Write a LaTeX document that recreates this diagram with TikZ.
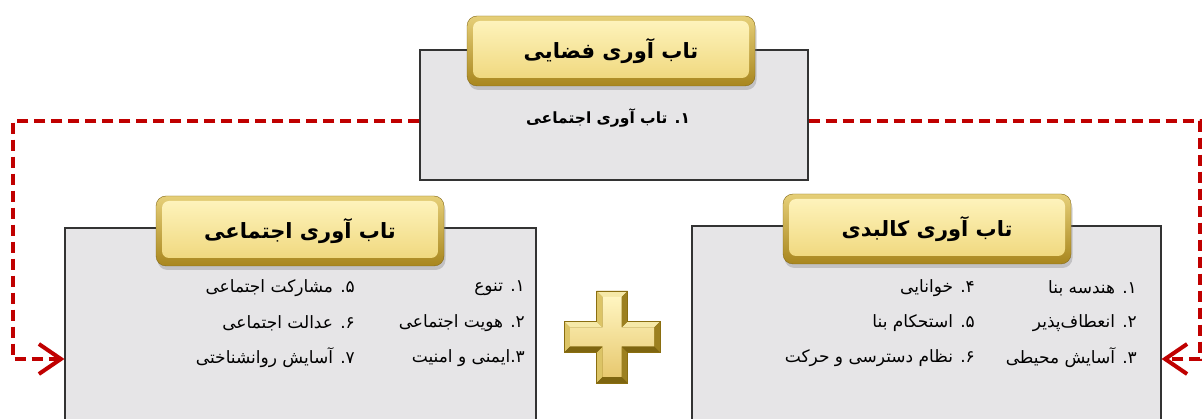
\documentclass[tikz,border=0pt]{standalone}
\usepackage{fontspec}
\newfontfamily\fa[Script=Arabic]{DejaVu Sans}
\TeXXeTstate=1
\usetikzlibrary{arrows.meta,shadows}
\definecolor{boxgray}{HTML}{E6E5E7}
\definecolor{boxline}{HTML}{333333}
\definecolor{dred}{HTML}{C00000}
\definecolor{rimtop}{HTML}{E6CF78}
\definecolor{rimbot}{HTML}{A8861E}
\definecolor{goldlight}{HTML}{FFF5C0}
\definecolor{goldmid}{HTML}{EED577}
\definecolor{chi}{HTML}{F6E9A8}
\definecolor{cleft}{HTML}{DCC466}
\definecolor{cright}{HTML}{9C8020}
\definecolor{cdown}{HTML}{7E6510}
\definecolor{cedge}{HTML}{8A6E10}
\tikzset{
  graybox/.style={draw=boxline, line width=1.1pt, fill=boxgray},
  goldtitle/.style={rounded corners=10pt, minimum width=288pt, minimum height=70pt,
    top color=rimtop, bottom color=rimbot, draw=rimbot!80!black, line width=0.4pt,
    drop shadow={shadow xshift=1.5pt, shadow yshift=-4pt, opacity=0.35},
    path picture={\shade[top color=goldlight, bottom color=goldmid, rounded corners=7pt]
      ([shift={(6pt,-5pt)}]path picture bounding box.north west) rectangle
      ([shift={(-6pt,8pt)}]path picture bounding box.south east);},
    font=\fa\bfseries\fontsize{21}{24}\selectfont},
  itemtext/.style={anchor=east, inner sep=0pt, font=\fa\fontsize{17}{19}\selectfont},
  subtitle/.style={inner sep=0pt, font=\fa\bfseries\fontsize{15.5}{18}\selectfont},
  redline/.style={draw=dred, line width=4pt, dash pattern=on 11pt off 6pt},
  redarrow/.style={-{Straight Barb[length=22pt, width=30pt, line width=4pt]}}
}
\begin{document}
\begin{tikzpicture}[x=1pt, y=-1pt]
\clip (0,0) rectangle (1203,419);
\fill[white] (0,0) rectangle (1203,419);

% gray boxes
\node[graybox, minimum width=388pt, minimum height=130pt] (top) at (614,115) {};
\node[graybox, minimum width=471pt, minimum height=212pt] (left) at (300.5,334) {};
\node[graybox, minimum width=469pt, minimum height=214pt] (right) at (926.5,333) {};

% titles
\node[goldtitle] (toptitle) at (611,51) {\beginR تاب آوری فضایی\endR};
\node[goldtitle] (lefttitle) at (300,231) {\beginR تاب آوری اجتماعی\endR};
\node[goldtitle] (righttitle) at (927,229) {\beginR تاب آوری کالبدی\endR};

% top content
\node[subtitle] (t1) at (608,118) {\beginR ۱. تاب آوری اجتماعی\endR};

% left items
\node[itemtext] (l1) at (525,288) {\beginR ۱. تنوع\endR};
\node[itemtext] (l2) at (525,323) {\beginR ۲. هویت اجتماعی\endR};
\node[itemtext] (l3) at (525,358) {\beginR ۳.ایمنی و امنیت\endR};
\node[itemtext] (l5) at (355,288) {\beginR ۵. مشارکت اجتماعی\endR};
\node[itemtext] (l6) at (355,323) {\beginR ۶. عدالت اجتماعی\endR};
\node[itemtext] (l7) at (355,358) {\beginR ۷. آسایش روانشناختی\endR};

% right items
\node[itemtext] (r1) at (1137,288) {\beginR ۱. هندسه بنا\endR};
\node[itemtext] (r2) at (1137,323) {\beginR ۲. انعطاف‌پذیر\endR};
\node[itemtext] (r3) at (1137,358) {\beginR ۳. آسایش محیطی\endR};
\node[itemtext] (r4) at (975,288) {\beginR ۴. خوانایی\endR};
\node[itemtext] (r5) at (975,323) {\beginR ۵. استحکام بنا\endR};
\node[itemtext] (r6) at (975,358) {\beginR ۶. نظام دسترسی و حرکت\endR};

% connectors
\coordinate (lcorner) at (13,121);
\coordinate (rcorner) at (1200,121);
\coordinate (arry) at (0,359);
\draw[redline, redarrow] (top.west |- lcorner) -- (lcorner) |- (left.west |- arry);
\draw[redline, redarrow] (top.east |- rcorner) -- (rcorner) |- (right.east |- arry);

% plus sign (beveled)
\fill[cedge] (596.5,291) -- (627.5,291) -- (627.5,321.5) -- (660,321.5) -- (660,352.5) -- (627.5,352.5)
  -- (627.5,383) -- (596.5,383) -- (596.5,352.5) -- (564,352.5) -- (564,321.5) -- (596.5,321.5) -- cycle;
% up-facing
\fill[chi] (596.5,291) -- (627.5,291) -- (621.5,297) -- (602.5,297) -- cycle;
\fill[chi] (564,321.5) -- (596.5,321.5) -- (602.5,327.5) -- (570,327.5) -- cycle;
\fill[chi] (627.5,321.5) -- (660,321.5) -- (654,327.5) -- (621.5,327.5) -- cycle;
% left-facing
\fill[cleft] (596.5,291) -- (602.5,297) -- (602.5,327.5) -- (596.5,321.5) -- cycle;
\fill[cleft] (564,321.5) -- (570,327.5) -- (570,346.5) -- (564,352.5) -- cycle;
\fill[cleft] (596.5,352.5) -- (602.5,346.5) -- (602.5,377) -- (596.5,383) -- cycle;
% right-facing
\fill[cright] (627.5,291) -- (627.5,321.5) -- (621.5,327.5) -- (621.5,297) -- cycle;
\fill[cright] (660,321.5) -- (660,352.5) -- (654,346.5) -- (654,327.5) -- cycle;
\fill[cright] (627.5,352.5) -- (627.5,383) -- (621.5,377) -- (621.5,346.5) -- cycle;
% down-facing
\fill[cdown] (564,352.5) -- (596.5,352.5) -- (602.5,346.5) -- (570,346.5) -- cycle;
\fill[cdown] (627.5,352.5) -- (660,352.5) -- (654,346.5) -- (621.5,346.5) -- cycle;
\fill[cdown] (596.5,383) -- (627.5,383) -- (621.5,377) -- (602.5,377) -- cycle;
% face
\shade[top color=goldlight, bottom color=goldmid!85!brown] (602.5,297) -- (621.5,297) -- (621.5,327.5) -- (654,327.5) -- (654,346.5)
  -- (621.5,346.5) -- (621.5,377) -- (602.5,377) -- (602.5,346.5) -- (570,346.5) -- (570,327.5) -- (602.5,327.5) -- cycle;
\draw[cedge, line width=0.8pt] (596.5,291) -- (627.5,291) -- (627.5,321.5) -- (660,321.5) -- (660,352.5) -- (627.5,352.5)
  -- (627.5,383) -- (596.5,383) -- (596.5,352.5) -- (564,352.5) -- (564,321.5) -- (596.5,321.5) -- cycle;
\end{tikzpicture}
\end{document}
